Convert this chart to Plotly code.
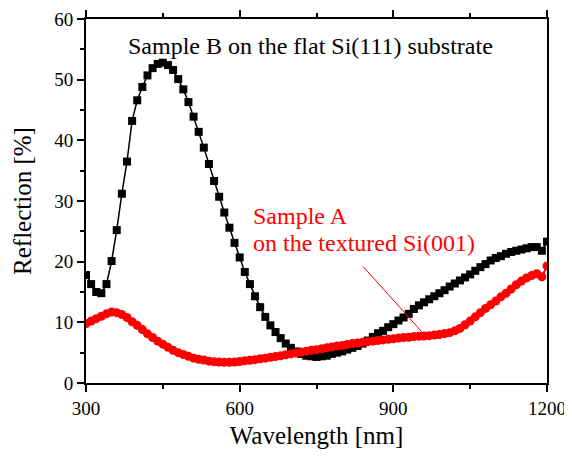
import plotly.graph_objects as go

# wavelength grid [nm]
wavelength = list(range(300, 1201, 10))

# Sample B, flat Si(111) -- reflection [%]
refl_b = [
    17.8, 16.3, 15.0, 14.8, 16.3, 20.1, 25.2, 31.2, 36.5, 43.2,
    46.6, 48.8, 50.7, 51.9, 52.6, 52.8, 52.4, 51.6, 50.1, 48.4,
    46.3, 43.9, 41.4, 38.8, 36.1, 33.3, 30.7, 28.1, 25.6, 23.1,
    20.7, 18.3, 16.3, 14.3, 12.5, 10.9, 9.5, 8.4, 7.4, 6.5,
    5.8, 5.2, 4.8, 4.5, 4.4, 4.3, 4.4, 4.5, 4.8, 5.0,
    5.2, 5.5, 5.8, 6.1, 6.5, 7.0, 7.6, 8.2, 8.6, 9.2,
    9.7, 10.3, 10.8, 11.4, 12.2, 12.8, 13.3, 13.8, 14.3, 14.8,
    15.3, 15.9, 16.4, 16.9, 17.4, 17.9, 18.5, 19.1, 19.6, 20.2,
    20.6, 20.9, 21.3, 21.6, 21.8, 22.0, 22.2, 22.4, 22.4, 21.8,
    23.3,
]

# Sample A, textured Si(001) -- reflection [%]
refl_a = [
    9.8, 10.2, 10.6, 11.0, 11.4, 11.7, 11.6, 11.3, 10.8, 10.1,
    9.5, 8.8, 8.1, 7.5, 6.9, 6.4, 5.9, 5.4, 5.0, 4.7,
    4.4, 4.1, 3.9, 3.8, 3.6, 3.5, 3.45, 3.4, 3.4, 3.45,
    3.55, 3.65, 3.75, 3.85, 4.0, 4.1, 4.25, 4.35, 4.5, 4.65,
    4.8, 4.95, 5.1, 5.25, 5.4, 5.5, 5.65, 5.8, 5.95, 6.1,
    6.2, 6.35, 6.5, 6.6, 6.7, 6.8, 6.9, 7.0, 7.1, 7.2,
    7.3, 7.4, 7.5, 7.55, 7.65, 7.7, 7.75, 7.8, 7.9, 8.0,
    8.15, 8.3, 8.6, 9.0, 9.6, 10.2, 10.9, 11.6, 12.3, 12.9,
    13.5, 14.2, 14.8, 15.5, 16.2, 16.8, 17.3, 17.7, 18.0, 17.5,
    19.3,
]

x_ticks = [300, 600, 900, 1200]
y_ticks = [0, 10, 20, 30, 40, 50, 60]

FONT = "Liberation Serif"

fig = go.Figure()

fig.add_trace(go.Scatter(
    x=wavelength, y=refl_b, mode="lines+markers",
    line=dict(color="black", width=1.5),
    marker=dict(symbol="square", size=8, color="black"),
    name="Sample B",
))

fig.add_trace(go.Scatter(
    x=wavelength, y=refl_a, mode="lines+markers",
    line=dict(color="red", width=2),
    marker=dict(symbol="circle", size=9, color="red"),
    name="Sample A",
))

# pointer line from the label to the red curve
fig.add_shape(type="line", x0=841, y0=19.2, x1=957, y1=8.3,
              line=dict(color="red", width=1))

fig.add_annotation(text="Sample B on the flat Si(111) substrate",
                   xref="paper", yref="paper", x=0.487, y=0.926,
                   yanchor="middle", showarrow=False,
                   font=dict(family=FONT, size=24, color="black"))
fig.add_annotation(text="Sample A",
                   xref="paper", yref="paper", x=0.358, y=0.46,
                   xanchor="left", yanchor="middle", showarrow=False,
                   font=dict(family=FONT, size=24, color="red"))
fig.add_annotation(text="on the textured Si(001)",
                   xref="paper", yref="paper", x=0.358, y=0.384,
                   xanchor="left", yanchor="middle", showarrow=False,
                   font=dict(family=FONT, size=24, color="red"))

axis_common = dict(
    showgrid=False, zeroline=False, automargin=False,
    showline=True, linecolor="black", linewidth=2,
    ticks="outside", ticklen=7, tickwidth=2, tickcolor="black",
    tickfont=dict(family=FONT, size=19, color="black"),
)

fig.update_xaxes(
    range=[300, 1200], tickvals=x_ticks, mirror="allticks",
    minor=dict(ticks="outside", ticklen=4, tickwidth=2, dtick=150, tickcolor="black"),
    title=dict(text="Wavelength [nm]", font=dict(family=FONT, size=25, color="black"), standoff=9),
    **axis_common,
)
fig.update_yaxes(
    range=[0, 60], tickvals=y_ticks, mirror=True,
    minor=dict(ticks="outside", ticklen=4, tickwidth=2, dtick=5, tickcolor="black"),
    title=dict(text="Reflection [%]", font=dict(family=FONT, size=25, color="black"), standoff=15),
    **axis_common,
)

# page body adds an 8px offset, so the figure is a bit smaller than the window
fig.update_layout(
    width=564, height=449,
    margin=dict(l=78, r=25, t=11, b=74),
    plot_bgcolor="white", paper_bgcolor="white",
    font=dict(family=FONT),
    showlegend=False,
)

fig.write_html("out.html")
